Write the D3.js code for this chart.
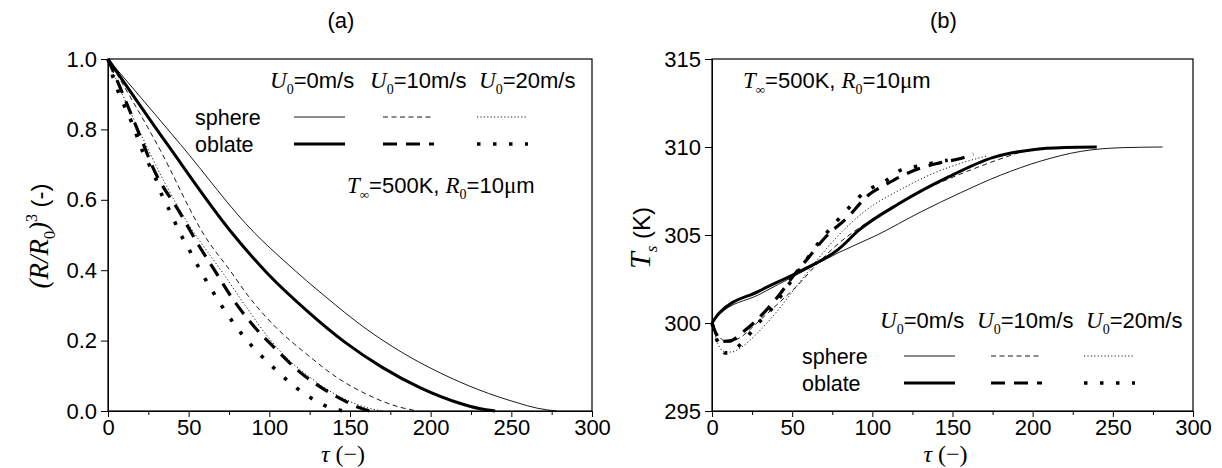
<!DOCTYPE html>
<html>
<head>
<meta charset="utf-8">
<script src="https://cdn.jsdelivr.net/npm/d3@7"></script>
<style>
  body { margin: 0; background: #fff; }
  svg { font-family: Arial, "Liberation Sans", sans-serif; }
</style>
</head>
<body>
<svg id="chart" width="1222" height="468"></svg>
<script>
// ---- data ----
var tauTicks = [0, 50, 100, 150, 200, 250, 300];
var tauMinor = [25, 75, 125, 175, 225, 275];
var volTicks = [0, 0.2, 0.4, 0.6, 0.8, 1.0];
var tempTicks = [295, 300, 305, 310, 315];

var legendCols = ['0', '10', '20'];
var legendRows = ['sphere', 'oblate'];

// (a) (R/R0)^3 vs tau
var volSphere0 = [[0,1],[45,0.757],[91,0.505],[111,0.419],[135,0.324],[158.6,0.238],[182,0.167],[206,0.108],[230,0.06],[254,0.023],[266,0.008],[278,0]];
var volOblate0 = [[0,1],[37.5,0.753],[77,0.505],[99,0.39],[123,0.286],[147,0.195],[170,0.124],[194,0.065],[218,0.022],[230,0.007],[240,0]];
var volSphere10 = [[0,1],[31,0.753],[61,0.49],[75.5,0.40],[87.4,0.324],[104,0.238],[123,0.162],[142,0.095],[161,0.046],[180,0.012],[192,0]];
var volOblate10 = [[0,1],[7.4,0.92],[20,0.78],[28,0.69],[45,0.56],[55,0.48],[66,0.40],[78,0.314],[90,0.243],[104,0.176],[118,0.114],[132,0.067],[147,0.028],[156,0.009],[162,0]];
var volSphere20 = [[0,1],[8,0.91],[20,0.79],[35,0.65],[50,0.53],[62,0.45],[70,0.40],[85,0.30],[101,0.2],[112,0.145],[124,0.1],[137,0.058],[150,0.027],[160,0.01],[170,0]];
var volOblate20 = [[0,1],[3,0.95],[10.5,0.863],[14.7,0.82],[21.7,0.735],[29,0.667],[34,0.607],[39.5,0.558],[43.4,0.516],[48.2,0.476],[58.9,0.386],[70.3,0.30],[84.3,0.211],[101.7,0.127],[115.9,0.069],[128,0.031],[138.5,0.008],[146,0]];

// (b) Ts vs tau
var tempSphere0 = [[0,300],[4.4,300.47],[29,301.6],[54,302.8],[79,304.0],[103,305.0],[130,306.3],[155,307.4],[180,308.4],[205,309.2],[230,309.75],[255,309.96],[281,310]];
var tempOblate0 = [[0,300],[4.4,300.55],[29,301.8],[54,302.9],[79,304.2],[92,305.3],[117,306.8],[147.5,308.3],[175,309.4],[200,309.85],[220,309.97],[240,310]];
var tempSphere10 = [[0,300],[4,299.3],[10,298.9],[18,299.2],[28,300.0],[40,301.0],[54,302.2],[66,303.4],[80,304.6],[95,305.6],[107,306.3],[128,307.4],[148,308.2],[170,309.0],[192,309.7]];
var tempOblate10 = [[0,300],[3,299.3],[6,298.95],[12,299.0],[18,299.4],[26,300.0],[33,300.65],[42,301.6],[50,302.6],[60,303.7],[71,304.9],[84,305.95],[98,307.3],[109,307.9],[117,308.3],[130,308.8],[142,309.1],[155,309.35],[163,309.6]];
var tempSphere20 = [[0,300],[3,299.0],[7,298.4],[12,298.35],[18,298.6],[28,299.4],[40,300.6],[52,302.0],[64,303.4],[78,304.9],[96,306.4],[118,307.6],[138,308.5],[156,309.1],[172,309.5]];
var tempOblate20 = [[0,300],[2,299.3],[5,298.7],[8,298.3],[14,298.5],[20,299.0],[28,299.9],[38,300.9],[48,302.2],[56,303.2],[66,304.5],[78,305.8],[87,306.7],[96,307.5],[105,307.9],[112,308.3],[118,308.7],[128,308.9],[138,309.1],[147,309.25]];

// line styles, same order as the series lists: sphere 0/10/20, oblate 0/10/20
var styles = [
  { w: 0.9, dash: null },
  { w: 0.9, dash: '5,3.5' },
  { w: 0.9, dash: '1.2,2.2' },
  { w: 3, dash: null },
  { w: 3.2, dash: '14,9' },
  { w: 3.6, dash: '3.5,12.5' }
];

var serif = '"Liberation Serif", "Times New Roman", serif';
var svg = d3.select('#chart');

function drawPanel(p) {
  var x = d3.scaleLinear().domain([0, 300]).range([p.left, p.right]);
  var y = d3.scaleLinear().domain(p.yDomain).range([411, 59]);
  var g = svg.append('g');

  var line = d3.line()
    .x(function (d) { return x(d[0]); })
    .y(function (d) { return y(d[1]); })
    .curve(d3.curveMonotoneX);

  p.series.forEach(function (s, i) {
    g.append('path')
      .attr('d', line(s))
      .attr('fill', 'none')
      .attr('stroke', '#000')
      .attr('stroke-width', styles[i].w)
      .attr('stroke-dasharray', styles[i].dash);
  });

  // axes
  var xAxis = g.append('g').attr('transform', 'translate(0,411)')
    .call(d3.axisBottom(x).tickValues(tauTicks).tickSize(6).tickPadding(2));
  g.append('g').attr('transform', 'translate(0,411)')
    .call(d3.axisBottom(x).tickValues(tauMinor).tickSize(4).tickFormat(''))
    .select('.domain').remove();
  var yAxis = g.append('g').attr('transform', 'translate(' + p.left + ',0)')
    .call(d3.axisLeft(y).tickValues(p.yTicks).tickSize(7).tickPadding(4).tickFormat(p.yFormat));
  [xAxis, yAxis].forEach(function (a) {
    a.selectAll('text').attr('font-size', 22).attr('font-family', 'Arial, "Liberation Sans", sans-serif').attr('fill', '#000');
    a.selectAll('line').attr('stroke', '#000').attr('stroke-width', 1);
  });
  g.selectAll('.domain').attr('stroke', '#000');

  g.append('rect')
    .attr('x', p.left).attr('y', 59)
    .attr('width', p.right - p.left).attr('height', 411 - 59)
    .attr('fill', 'none').attr('stroke', '#000').attr('stroke-width', 1.2);

  // panel title
  var cx = (p.left + p.right) / 2;
  g.append('text').attr('x', cx - 9).attr('y', 28).attr('text-anchor', 'middle')
    .attr('font-size', 22).text(p.title);

  // x label
  var xl = g.append('text').attr('x', cx - 7).attr('y', 462).attr('text-anchor', 'middle')
    .attr('font-family', serif).attr('font-size', 24);
  xl.append('tspan').attr('font-style', 'italic').text('τ');
  xl.append('tspan').text(' (−)');

  // legend
  legendCols.forEach(function (c, j) {
    var t = g.append('text').attr('x', p.legend.headX[j]).attr('y', p.legend.headY).attr('font-size', 22);
    t.append('tspan').attr('font-family', serif).attr('font-style', 'italic').attr('font-size', 23).text('U');
    t.append('tspan').attr('font-family', serif).attr('font-size', 14).attr('dy', 6).text('0');
    t.append('tspan').attr('dy', -6).text('=' + c + 'm/s');
  });
  legendRows.forEach(function (r, k) {
    g.append('text').attr('x', p.legend.textX).attr('y', p.legend.rowY[k] + 8)
      .attr('font-size', 21.5).text(r);
    legendCols.forEach(function (c, j) {
      var st = styles[k * 3 + j];
      g.append('line')
        .attr('x1', p.legend.lineX[j]).attr('x2', p.legend.lineX[j] + 51)
        .attr('y1', p.legend.rowY[k]).attr('y2', p.legend.rowY[k])
        .attr('stroke', '#000').attr('stroke-width', st.w)
        .attr('stroke-dasharray', st.dash);
    });
  });

  // condition note
  var n = g.append('text').attr('x', p.note[0]).attr('y', p.note[1]).attr('font-size', 22);
  n.append('tspan').attr('font-family', serif).attr('font-style', 'italic').attr('font-size', 23).text('T');
  n.append('tspan').attr('font-family', serif).attr('font-style', 'italic').attr('font-size', 13).attr('dy', 6).text('∞');
  n.append('tspan').attr('dy', -6).text('=500K, ');
  n.append('tspan').attr('font-family', serif).attr('font-style', 'italic').attr('font-size', 23).text('R');
  n.append('tspan').attr('font-family', serif).attr('font-size', 14).attr('dy', 6).text('0');
  n.append('tspan').attr('dy', -6).text('=10');
  n.append('tspan').attr('font-family', serif).attr('font-size', 23).text('μ');
  n.append('tspan').text('m');

  p.yLabel(g);
}

drawPanel({
  left: 108, right: 592,
  yDomain: [0, 1], yTicks: volTicks, yFormat: d3.format('.1f'),
  series: [volSphere0, volSphere10, volSphere20, volOblate0, volOblate10, volOblate20],
  title: '(a)',
  legend: { headX: [270, 370, 479], headY: 88, textX: 195, rowY: [117, 144], lineX: [294, 383, 477] },
  note: [347, 193],
  yLabel: function (g) {
    var t = g.append('text').attr('transform', 'translate(48,236) rotate(-90)')
      .attr('text-anchor', 'middle').attr('font-size', 27);
    t.append('tspan').attr('font-family', serif).attr('font-style', 'italic').text('(R/R');
    t.append('tspan').attr('font-family', serif).attr('font-size', 16).attr('dy', 7).text('0');
    t.append('tspan').attr('font-family', serif).attr('font-style', 'italic').attr('dy', -7).text(')');
    t.append('tspan').attr('font-family', serif).attr('font-size', 16).attr('dy', -11).text('3');
    t.append('tspan').attr('dy', 11).attr('font-size', 24).text(' (-)');
  }
});

drawPanel({
  left: 712, right: 1193,
  yDomain: [295, 315], yTicks: tempTicks, yFormat: d3.format('d'),
  series: [tempSphere0, tempSphere10, tempSphere20, tempOblate0, tempOblate10, tempOblate20],
  title: '(b)',
  legend: { headX: [880, 977, 1086], headY: 328, textX: 802, rowY: [356, 383], lineX: [904, 991, 1084] },
  note: [743, 88],
  yLabel: function (g) {
    var t = g.append('text').attr('transform', 'translate(650,238) rotate(-90)')
      .attr('text-anchor', 'middle').attr('font-size', 24);
    t.append('tspan').attr('font-family', serif).attr('font-style', 'italic').attr('font-size', 30).text('T');
    t.append('tspan').attr('font-family', serif).attr('font-style', 'italic').attr('font-size', 17).attr('dy', 7).text('s');
    t.append('tspan').attr('dy', -7).text(' (K)');
  }
});
</script>
</body>
</html>
